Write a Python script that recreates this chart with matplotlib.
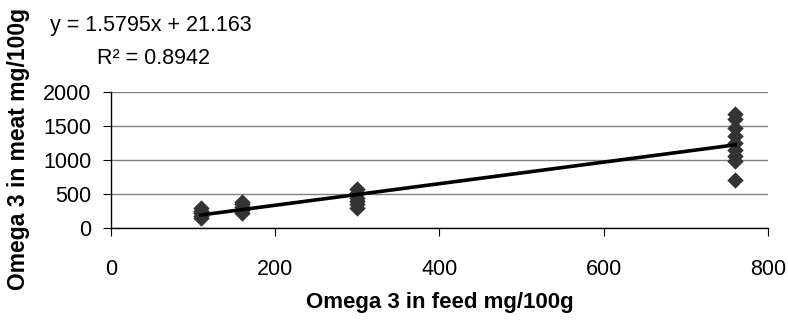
import numpy as np
import matplotlib.pyplot as plt

plt.rcParams['font.family'] = ['Liberation Sans', 'DejaVu Sans']

# omega 3 in feed (mg/100g) and in meat (mg/100g)
feed = [110, 110, 110, 110, 110,
        160, 160, 160, 160, 160,
        300, 300, 300, 300, 300, 300,
        760, 760, 760, 760, 760, 760, 760, 760, 760]
meat = [150, 180, 220, 260, 300,
        230, 270, 310, 350, 390,
        300, 350, 400, 450, 520, 580,
        700, 980, 1060, 1150, 1250, 1350, 1470, 1600, 1680]

slope = 1.5795
intercept = 21.163
r2 = 0.8942

fig = plt.figure(figsize=(7.88, 3.2), dpi=100)
ax = fig.add_axes([0.1405, 0.2866, 0.8341, 0.4268])

ax.scatter(feed, meat, marker='D', s=70, color='#333333', zorder=3, linewidths=0)

xs = np.array([min(feed), max(feed)])
ax.plot(xs, slope * xs + intercept, color='black', lw=2.6, zorder=4)

ax.set_xlim(0, 800)
ax.set_ylim(0, 2000)
ax.set_xticks([0, 200, 400, 600, 800])
ax.set_yticks([0, 500, 1000, 1500, 2000])
ax.yaxis.grid(True, color='#808080', lw=1)
ax.set_axisbelow(True)

for s in ['top', 'right']:
    ax.spines[s].set_visible(False)
for s in ['left', 'bottom']:
    ax.spines[s].set_color('black')
    ax.spines[s].set_linewidth(1)

ax.tick_params(axis='x', direction='out', length=6, pad=16, labelsize=15.5)
ax.tick_params(axis='y', direction='out', length=6, pad=8, labelsize=15.5)

ax.set_xlabel('Omega 3 in feed mg/100g', fontsize=16, fontweight='bold', labelpad=9)
fig.text(0.023, 0.535, 'Omega 3 in meat mg/100g', rotation=90, fontsize=16.5,
         fontweight='bold', ha='center', va='center')

fig.text(50 / 788, 1 - 25 / 320, 'y = %.4fx + %.3f' % (slope, intercept),
         fontsize=15.5, ha='left', va='center')
fig.text(97 / 788, 1 - 58 / 320, 'R\u00b2 = %.4f' % r2,
         fontsize=15.5, ha='left', va='center')

fig.savefig('out.png', dpi=100)
